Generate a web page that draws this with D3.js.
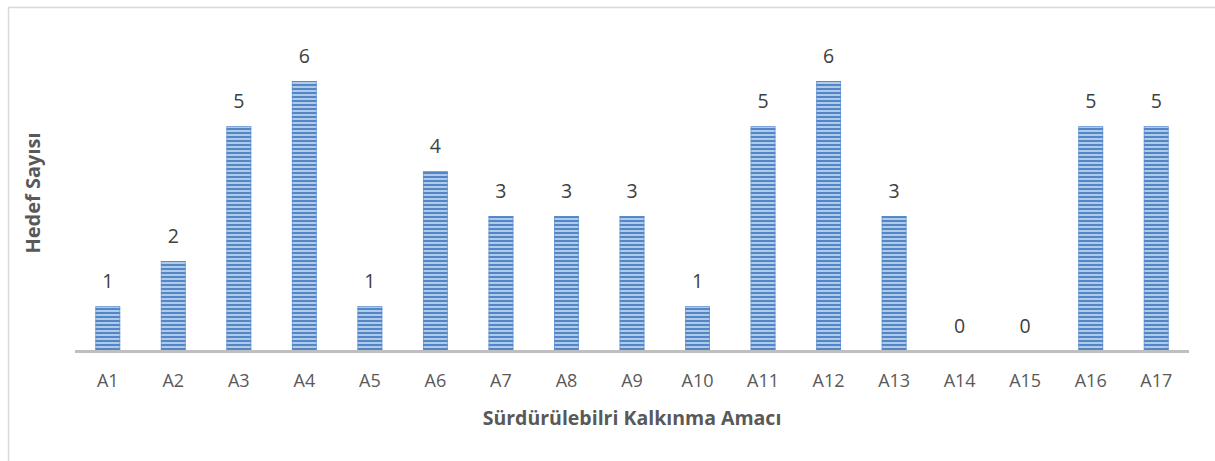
<!DOCTYPE html>
<html>
<head>
<meta charset="utf-8">
<script src="https://cdn.jsdelivr.net/npm/d3@7"></script>
<style>
  body { margin: 0; background: #fff; }
  text { font-family: "Open Sans", sans-serif; }
</style>
</head>
<body>
<script>
const categories = ['A1', 'A2', 'A3', 'A4', 'A5', 'A6', 'A7', 'A8', 'A9', 'A10', 'A11', 'A12', 'A13', 'A14', 'A15', 'A16', 'A17']
const values = [1, 2, 5, 6, 1, 4, 3, 3, 3, 1, 5, 6, 3, 0, 0, 5, 5]
const xTitle = 'Sürdürülebilri Kalkınma Amacı'
const yTitle = 'Hedef Sayısı'

const dimensions = { width: 1215, height: 461 }
const margin = { left: 75, right: 26, top: 81, bottom: 110 }

const svg = d3.select('body').append('svg')
    .attr('width', dimensions.width)
    .attr('height', dimensions.height)

// chart border
svg.append('rect')
    .attr('x', 8.5).attr('y', 7.5)
    .attr('width', dimensions.width)
    .attr('height', dimensions.height)
    .attr('fill', 'none')
    .attr('stroke', '#d9d9d9')
    .attr('stroke-width', 1.5)

// striped fill
const defs = svg.append('defs')
const pat = defs.append('pattern')
    .attr('id', 'stripes')
    .attr('patternUnits', 'userSpaceOnUse')
    .attr('width', 8).attr('height', 4)
pat.append('rect').attr('width', 8).attr('height', 4).attr('fill', '#afcbec')
pat.append('rect').attr('y', 0).attr('width', 8).attr('height', 2).attr('fill', '#5486c6')

const x = d3.scaleBand()
    .domain(categories)
    .range([margin.left, dimensions.width - margin.right])
    .paddingInner(0.62)
    .paddingOuter(0.31)

const y = d3.scaleLinear()
    .domain([0, 6])
    .range([351, margin.top])

const g = svg.append('g')

g.selectAll('.bar')
    .data(values)
    .enter()
    .append('rect')
    .attr('class', 'bar')
    .attr('x', (d, i) => x(categories[i]))
    .attr('y', d => y(d))
    .attr('width', x.bandwidth())
    .attr('height', d => y(0) - y(d))
    .attr('fill', 'url(#stripes)')

g.selectAll('.bar-edge')
    .data(values)
    .enter()
    .append('rect')
    .attr('x', (d, i) => x(categories[i]) + 0.5)
    .attr('y', d => y(d) + 0.5)
    .attr('width', x.bandwidth() - 1)
    .attr('height', d => Math.max(0, y(0) - y(d) - 1))
    .attr('fill', 'none')
    .attr('stroke', '#5b8fd0')
    .attr('stroke-opacity', 0.6)

g.selectAll('.val')
    .data(values)
    .enter()
    .append('text')
    .attr('x', (d, i) => x(categories[i]) + x.bandwidth() / 2)
    .attr('y', d => y(d) - 18)
    .attr('text-anchor', 'middle')
    .attr('font-size', 19.5)
    .attr('fill', '#404040')
    .text(d => d)

// baseline
svg.append('line')
    .attr('x1', margin.left).attr('x2', dimensions.width - margin.right)
    .attr('y1', 351.5).attr('y2', 351.5)
    .attr('stroke', '#bfbfbf')
    .attr('stroke-width', 3)

// tick labels
const xAxis = d3.axisBottom(x).tickSize(0).tickPadding(0)
const ax = svg.append('g')
    .attr('transform', 'translate(0,387)')
    .call(xAxis)
ax.select('.domain').remove()
ax.selectAll('text')
    .attr('dy', 0)
    .attr('font-family', '"Open Sans", sans-serif')
    .attr('font-size', 18)
    .attr('fill', '#595959')

svg.append('text')
    .attr('x', (margin.left + dimensions.width - margin.right) / 2)
    .attr('y', 425)
    .attr('text-anchor', 'middle')
    .attr('font-size', 19.5)
    .attr('font-weight', 'bold')
    .attr('fill', '#595959')
    .text(xTitle)

svg.append('text')
    .attr('transform', 'translate(40,193) rotate(-90)')
    .attr('text-anchor', 'middle')
    .attr('font-size', 20)
    .attr('font-weight', 'bold')
    .attr('fill', '#595959')
    .text(yTitle)
</script>
</body>
</html>
